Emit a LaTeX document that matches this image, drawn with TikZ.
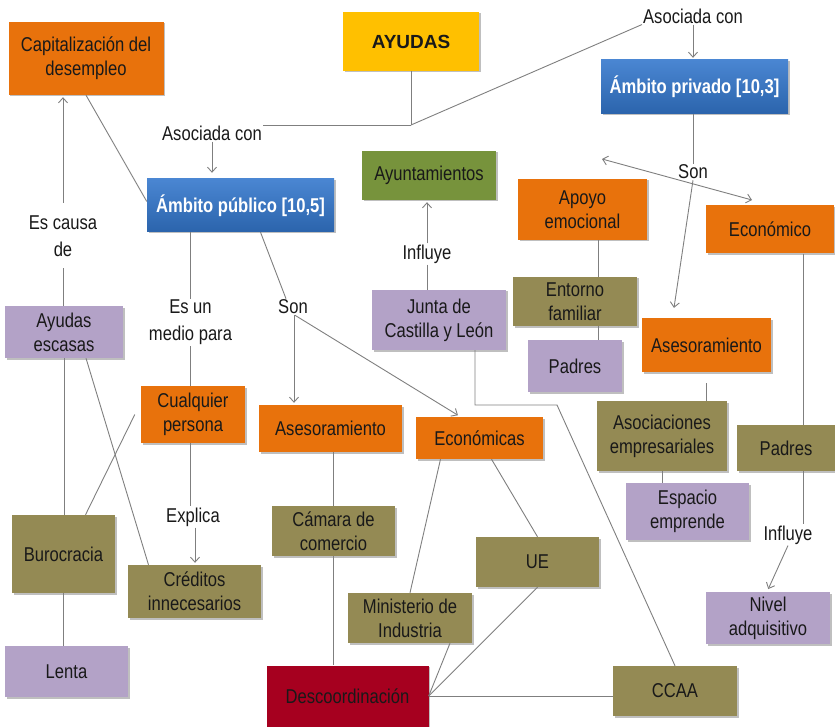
\documentclass[tikz,border=0pt]{standalone}
\usepackage{fontspec}
\setmainfont{Liberation Sans}[FakeStretch=0.83]
\newfontfamily\wideface{Liberation Sans}
\usepackage{tikz}
\usetikzlibrary{arrows.meta,shadows}
\definecolor{orangefill}{HTML}{E8720C}
\definecolor{bluetop}{HTML}{4A86D2}
\definecolor{bluebot}{HTML}{2B64AC}
\definecolor{yellowfill}{HTML}{FFC000}
\definecolor{greenfill}{HTML}{77933C}
\definecolor{lilacfill}{HTML}{B3A2C7}
\definecolor{olivefill}{HTML}{948A54}
\definecolor{redfill}{HTML}{A6001F}
\definecolor{linegray}{HTML}{7F7F7F}
\tikzset{
	link/.style={
		draw=linegray,
		line width=0.9pt
	},
	linkarrow/.style={
		link,
		-{Straight Barb[length=5pt,width=9pt]}
	},
	bothways/.style={
		link,
		{Straight Barb[length=5pt,width=9pt]}-{Straight Barb[length=5pt,width=9pt]}
	},
	dims/.style 2 args={
		minimum width=#1pt,
		minimum height=#2pt
	}
}

\begin{document}
\begin{tikzpicture}[x=1pt, y=-1pt, font=\fontsize{20}{24}\selectfont]

	\useasboundingbox (0, 0) rectangle (835, 727);

	\begin{scope}[
		box/.style={rectangle, inner sep=2pt, align=center, text=black!90,
			drop shadow={shadow xshift=1.5pt, shadow yshift=-1.5pt, fill=black, opacity=.25}},
		orangebox/.style={box, fill=orangefill},
		bluebox/.style={box, top color=bluetop, bottom color=bluebot, text=white, font=\fontsize{20}{24}\selectfont\bfseries},
		yellowbox/.style={box, fill=yellowfill},
		greenbox/.style={box, fill=greenfill},
		lilacbox/.style={box, fill=lilacfill},
		olivebox/.style={box, fill=olivefill},
		redbox/.style={box, fill=redfill},
		lbl/.style={inner sep=1pt, align=center, text=black!90, font=\fontsize{20}{27}\selectfont}
	]

		%% Top row
		\node[orangebox, dims={155}{73}] (capital) at (86, 58.5) {Capitalización del\\desempleo};
		\node[yellowbox, dims={136}{59}, font=\wideface\fontsize{19}{23}\selectfont\bfseries] (ayudas) at (411, 41.5) {AYUDAS};
		\node[bluebox, dims={187}{54}] (privado) at (694.5, 87) {Ámbito privado [10,3]};
		\node[bluebox, dims={187}{53}] (publico) at (240.5, 205.5) {Ámbito público [10,5]};

		%% Middle
		\node[greenbox, dims={134}{49}] (ayunt) at (429, 175.5) {Ayuntamientos};
		\node[orangebox, dims={129}{61}] (apoyo) at (582.5, 209.5) {Apoyo\\emocional};
		\node[orangebox, dims={128}{48}] (economico) at (770, 229.5) {Económico};
		\node[lilacbox, dims={118}{52}] (escasas) at (64, 332) {Ayudas\\escasas};
		\node[lilacbox, dims={134}{60}] (junta) at (439, 320) {Junta de\\Castilla y León};
		\node[olivebox, dims={124}{49}] (entorno) at (575, 301.5) {Entorno\\familiar};
		\node[lilacbox, dims={94}{52}] (padresa) at (575, 366) {Padres};
		\node[orangebox, dims={129}{54}] (asesorb) at (706.5, 345) {Asesoramiento};
		\node[orangebox, dims={104}{57}] (cualquier) at (193, 414.5) {Cualquier\\persona};
		\node[orangebox, dims={143}{47}] (asesora) at (330.5, 428.5) {Asesoramiento};
		\node[orangebox, dims={127}{42}] (economicas) at (479.5, 438) {Económicas};
		\node[olivebox, dims={130}{70}] (asociaciones) at (662, 436) {Asociaciones\\empresariales};
		\node[olivebox, dims={98}{46}] (padresb) at (786, 448) {Padres};
		\node[lilacbox, dims={123}{57}] (espacio) at (687.5, 511.5) {Espacio\\emprende};

		%% Bottom
		\node[olivebox, dims={103}{78}] (burocracia) at (63.5, 554) {Burocracia};
		\node[olivebox, dims={123}{50}] (camara) at (333.5, 531) {Cámara de\\comercio};
		\node[olivebox, dims={133}{53}] (creditos) at (194.5, 591.5) {Créditos\\innecesarios};
		\node[olivebox, dims={123}{50}] (ue) at (537.5, 562) {UE};
		\node[olivebox, dims={124}{50}] (ministerio) at (410, 618) {Ministerio de\\Industria};
		\node[lilacbox, dims={124}{52}] (nivel) at (768, 618) {Nivel\\adquisitivo};
		\node[lilacbox, dims={123}{51}] (lenta) at (66.5, 671.5) {Lenta};
		\node[redbox, dims={162}{61}] (descoord) at (347.5, 696) {Descoordinación};
		\node[olivebox, dims={124}{50}] (ccaa) at (675, 691) {CCAA};

		% Link labels
		\node[lbl] (asocl) at (212, 133) {Asociada con};
		\node[lbl] (asocr) at (693, 16) {Asociada con};
		\node[lbl] (causa) at (63, 236.5) {Es causa\\de};
		\node[lbl] (medio) at (190.5, 322.5) {Es un\\medio para};
		\node[lbl] (sonl) at (293, 307) {Son};
		\node[lbl] (sonr) at (693, 172) {Son};
		\node[lbl] (influa) at (427, 254) {Influye};
		\node[lbl] (explica) at (193, 517) {Explica};
		\node[lbl] (influb) at (788, 535) {Influye};

		\coordinate (split) at (411, 125);
		\coordinate (bend) at (557, 405);
		\coordinate (tipa) at (602, 159);
		\coordinate (tipb) at (752, 200);

		% AYUDAS
		\draw[link] (ayudas.south) -- (split);
		\draw[link] (split) -- (split -| asocl.east);
		\draw[link] (split) -- (asocr.south west);
		\draw[linkarrow, shorten >=6pt] (asocl.south) -- (asocl.south |- publico.north);
		\draw[linkarrow, shorten >=2pt] (asocr.south) -- (asocr.south |- privado.north);

		% Ambito publico
		\draw[link] (capital.south) -- ([yshift=4pt]publico.west);
		\draw[linkarrow, shorten <=12pt, shorten >=2pt] (causa.north) -- (causa.north |- capital.south);
		\draw[link, shorten <=10pt] (causa.south) -- (causa.south |- escasas.north);
		\draw[link] ([xshift=-50pt]publico.south) -- (medio.north);
		\draw[link] (medio.south) -- (medio.south |- cualquier.north);
		\draw[link] ([xshift=-3pt]cualquier.south) -- ([xshift=-3pt]cualquier.south |- explica.north);
		\draw[linkarrow, shorten >=2pt] ([xshift=2pt]explica.south) -- ([xshift=2pt]explica.south |- creditos.north);
		\draw[link] ([xshift=20pt]publico.south) -- ([xshift=-7pt]sonl.north);
		\draw[linkarrow, shorten >=2pt] ([xshift=1pt]sonl.south) -- ([xshift=1pt]sonl.south |- asesora.north);
		\draw[linkarrow, shorten >=3pt] ([xshift=2pt]sonl.south) -- ([xshift=-19pt]economicas.north);

		% Left column
		\draw[link] (escasas.south) -- (escasas.south |- burocracia.north);
		\draw[link] ([xshift=22pt]escasas.south) -- ([xshift=-46pt]creditos.north);
		\draw[link] ([xshift=22pt]burocracia.north) -- ([xshift=-6pt]cualquier.west);
		\draw[link] (burocracia.south) -- (burocracia.south |- lenta.north);

		% Descoordinacion
		\draw[link] (camara.north |- asesora.south) -- (camara.north);
		\draw[link] (camara.south) -- (camara.south |- descoord.north);
		\draw[link] ([xshift=-39pt]economicas.south) -- (ministerio.north);
		\draw[link] ([xshift=12pt]economicas.south) -- (ue.north);
		\draw[link] (ue.south) -- (descoord.east);
		\draw[link] ([xshift=40pt]ministerio.south) -- (descoord.east);
		\draw[link] (ccaa.west |- descoord.east) -- (descoord.east);
		\draw[link] ([xshift=36pt]junta.south) |- (bend) -- (ccaa.north);
		\draw[link] (influa.south) -- (influa.south |- junta.north);
		\draw[linkarrow, shorten >=2pt] (influa.north) -- (influa.north |- ayunt.south);

		% Ambito privado
		\draw[link] (sonr.north |- privado.south) -- (sonr.north);
		\draw[bothways] (tipa) -- (tipb);
		\draw[linkarrow, shorten >=10pt] (sonr.south) -- ([xshift=-34pt]asesorb.north);
		\draw[link] ([xshift=16pt]apoyo.south) -- ([xshift=16pt]apoyo.south |- entorno.north);
		\draw[link] ([xshift=23pt]entorno.south) -- ([xshift=23pt]entorno.south |- padresa.north);
		\draw[link] ([yshift=-11pt]asesorb.south) -- (asesorb.south |- asociaciones.north);
		\draw[link] (asociaciones.south) -- (asociaciones.south |- espacio.north);
		\draw[link] ([xshift=33pt]economico.south) -- ([xshift=33pt]economico.south |- padresb.north);
		\draw[link] ([xshift=17pt]padresb.south) -- ([xshift=17pt]padresb.south |- influb.north);
		\draw[linkarrow, shorten >=3pt] (influb.south) -- ([xshift=-1pt]nivel.north);
	\end{scope}

\end{tikzpicture}
\end{document}
